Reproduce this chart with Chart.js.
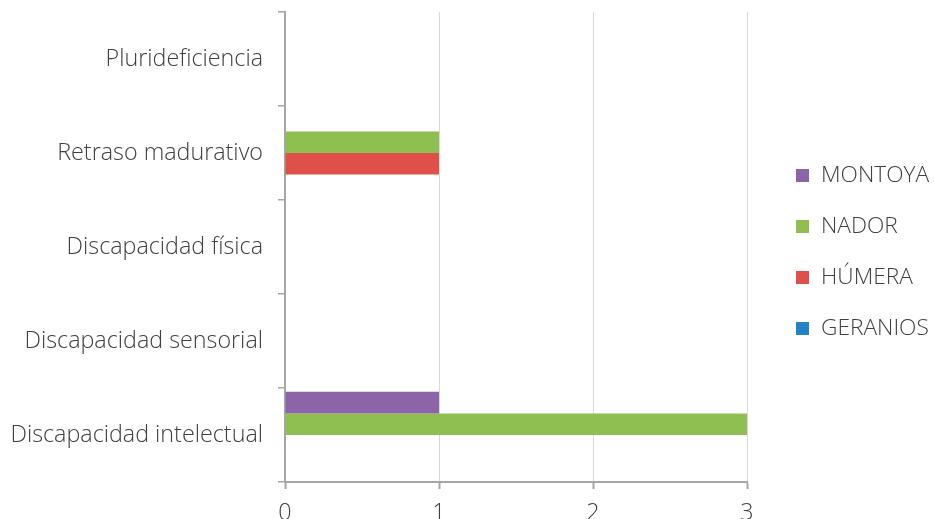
<!DOCTYPE html>
<html>
<head>
<meta charset="utf-8">
<script src="https://cdn.jsdelivr.net/npm/chart.js@4"></script>
<style>
  html, body { margin: 0; padding: 0; background: #fff; overflow: hidden; }
  #wrap { position: relative; width: 934px; height: 519px; overflow: hidden; }
  #box { position: absolute; left: 0; top: 0; width: 934px; height: 545px; }
  #legend { position: absolute; left: 796px; top: 161px; font-family: "Open Sans", sans-serif; font-weight: 300; font-size: 22.7px; color: #404040; }
  #legend div { height: 51px; display: flex; align-items: flex-start; }
  #legend span.sw { width: 13px; height: 13px; margin-top: 8px; margin-right: 12px; display: inline-block; }
  #legend span.tx { line-height: 26px; }
</style>
</head>
<body>
<div id="wrap">
  <div id="box"><canvas id="chart"></canvas></div>
  <div id="legend"></div>
</div>
<script>
// categories, top to bottom
const categories = ['Plurideficiencia', 'Retraso madurativo', 'Discapacidad física', 'Discapacidad sensorial', 'Discapacidad intelectual'];

const montoya  = [0, 0, 0, 0, 1];
const nador    = [0, 1, 0, 0, 3];
const humera   = [0, 1, 0, 0, 0];
const geranios = [0, 0, 0, 0, 0];

const seriesNames  = ['MONTOYA', 'NADOR', 'HÚMERA', 'GERANIOS'];
const seriesColors = ['#8c64a8', '#8fbf50', '#e0504a', '#2382c8'];
const xTicks = [0, 1, 2, 3];

const font = { family: '"Open Sans", sans-serif', size: 23.3, weight: 300 };
const axisGray = '#a6a6a6';

const datasets = [montoya, nador, humera, geranios].map((vals, i) => ({
  label: seriesNames[i],
  data: vals,
  backgroundColor: seriesColors[i],
  borderWidth: 0,
  categoryPercentage: 0.92,
  barPercentage: 1.0
}));

new Chart(document.getElementById('chart'), {
  type: 'bar',
  data: { labels: categories, datasets: datasets },
  options: {
    indexAxis: 'y',
    responsive: true,
    maintainAspectRatio: false,
    animation: false,
    layout: { padding: { top: 12, right: 187, left: 0, bottom: 0 } },
    plugins: { legend: { display: false }, tooltip: { enabled: false } },
    scales: {
      x: {
        min: 0, max: 3,
        afterBuildTicks: s => { s.ticks = xTicks.map(v => ({ value: v })); },
        afterFit: s => { s.height = 63; },
        grid: { color: '#d9d9d9', lineWidth: 1, tickColor: axisGray, tickLength: 7, tickWidth: 2 },
        border: { display: true, color: axisGray, width: 2 },
        ticks: { font: font, color: '#404040', padding: 10 }
      },
      y: {
        afterFit: s => { s.width = 285; s.paddingTop = 0; s.paddingBottom = 0; },
        grid: { drawOnChartArea: false, color: axisGray, tickLength: 7, lineWidth: 1.5 },
        border: { display: true, color: axisGray, width: 2 },
        ticks: { font: font, color: '#404040', padding: 15 }
      }
    }
  }
});

// legend beside the plot
const legend = document.getElementById('legend');
seriesNames.forEach((name, i) => {
  const row = document.createElement('div');
  row.innerHTML = '<span class="sw" style="background:' + seriesColors[i] + '"></span><span class="tx">' + name + '</span>';
  legend.appendChild(row);
});
</script>
</body>
</html>
